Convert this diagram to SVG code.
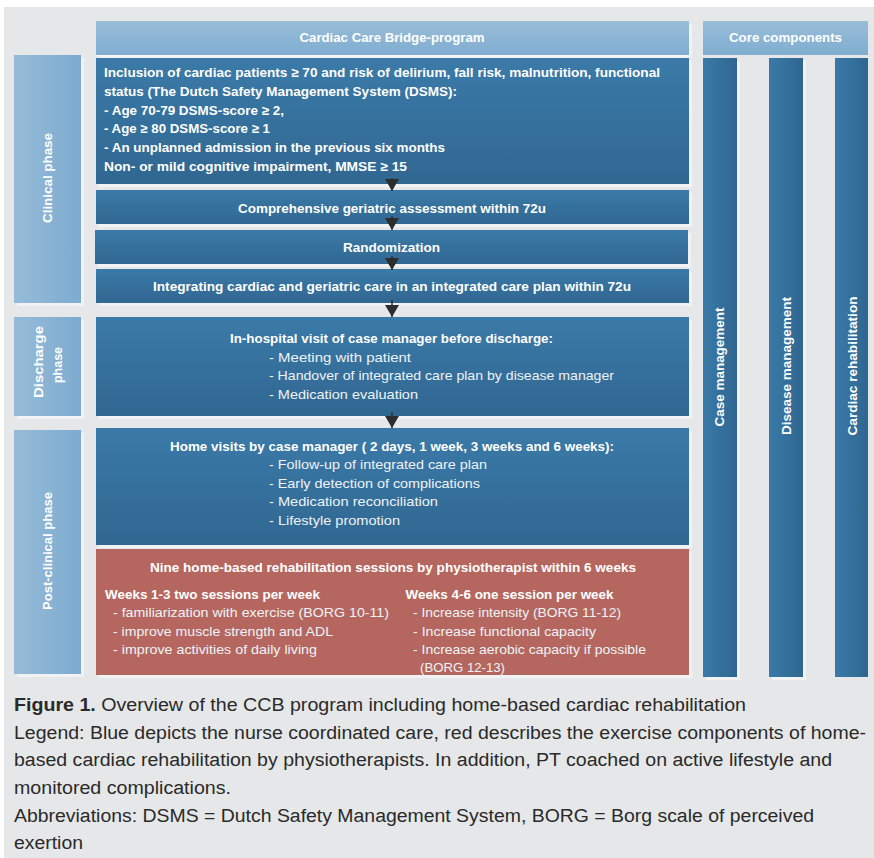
<svg xmlns="http://www.w3.org/2000/svg" width="874" height="858" viewBox="0 0 874 858">
<style>
.b{font-family:"Liberation Sans",Arial,sans-serif;font-weight:bold;font-size:13px;fill:#ffffff}
.n{font-family:"Liberation Sans",Arial,sans-serif;font-size:13px;fill:#eef3f8}
.c{font-family:"Liberation Sans",Arial,sans-serif;font-size:18px;fill:#2a2a2a}
.m{text-anchor:middle}
.sh{fill:#f1f2f3}
</style>
<defs>
<linearGradient id="gBlue" x1="0" y1="0" x2="0" y2="1"><stop offset="0" stop-color="#3b7aa8"/><stop offset="1" stop-color="#306791"/></linearGradient>
<linearGradient id="gHead" x1="0" y1="0" x2="0" y2="1"><stop offset="0" stop-color="#98bdd9"/><stop offset="1" stop-color="#80add0"/></linearGradient>
<linearGradient id="gPhase" x1="0" y1="0" x2="1" y2="0"><stop offset="0" stop-color="#96bbd8"/><stop offset="1" stop-color="#7eabcf"/></linearGradient>
<linearGradient id="gCol" x1="0" y1="0" x2="1" y2="0"><stop offset="0" stop-color="#3a7aa8"/><stop offset="1" stop-color="#2f6690"/></linearGradient>
<marker id="arr" markerUnits="userSpaceOnUse" markerWidth="13" markerHeight="14" viewBox="0 0 12 14" refX="12" refY="7" orient="auto"><path d="M0,0 L12,7 L0,14 z" fill="#2d2d2d"/></marker>
</defs>
<rect x="4" y="7" width="870" height="851" fill="#e6e7e9"/>

<g id="header-program">
<rect class="sh" x="99" y="24" width="593" height="34"/>
<rect x="96" y="21" width="593" height="34" fill="url(#gHead)"/>
<line x1="96" y1="55.5" x2="689" y2="55.5" stroke="#f4f7fa" stroke-width="1"/>
<text class="b m" x="392" y="42" textLength="185" lengthAdjust="spacingAndGlyphs">Cardiac Care Bridge-program</text>
</g>
<g id="header-core">
<rect x="703" y="21" width="165" height="34" fill="url(#gHead)"/>
<text class="b m" x="785.5" y="42" textLength="113" lengthAdjust="spacingAndGlyphs">Core components</text>
</g>

<g id="phase-clinical">
<rect class="sh" x="17" y="58" width="67" height="248"/>
<rect x="14" y="55" width="67" height="248" fill="url(#gPhase)"/>
<text class="b m" transform="translate(47,178) rotate(-90)" x="0" y="4.5" textLength="90" lengthAdjust="spacingAndGlyphs">Clinical phase</text>
</g>
<g id="phase-discharge">
<rect class="sh" x="17" y="320" width="67" height="99"/>
<rect x="14" y="317" width="67" height="99" fill="url(#gPhase)"/>
<text class="b m" transform="translate(38,362) rotate(-90)" x="0" y="4.5" textLength="72" lengthAdjust="spacingAndGlyphs">Discharge</text>
<text class="b m" transform="translate(57,365) rotate(-90)" x="0" y="4.5" textLength="36" lengthAdjust="spacingAndGlyphs">phase</text>
</g>
<g id="phase-post">
<rect class="sh" x="17" y="433" width="67" height="244"/>
<rect x="14" y="430" width="67" height="244" fill="url(#gPhase)"/>
<text class="b m" transform="translate(47,551) rotate(-90)" x="0" y="4.5" textLength="118" lengthAdjust="spacingAndGlyphs">Post-clinical phase</text>
</g>

<g id="col-case">
<rect class="sh" x="706" y="61" width="34" height="619"/>
<rect x="703" y="58" width="34" height="619" fill="url(#gCol)"/>
<text class="b m" transform="translate(719,367) rotate(-90)" x="0" y="4.5" textLength="119" lengthAdjust="spacingAndGlyphs">Case management</text>
</g>
<g id="col-disease">
<rect class="sh" x="772" y="61" width="34" height="619"/>
<rect x="769" y="58" width="34" height="619" fill="url(#gCol)"/>
<text class="b m" transform="translate(786,366) rotate(-90)" x="0" y="4.5" textLength="138" lengthAdjust="spacingAndGlyphs">Disease management</text>
</g>
<g id="col-rehab">
<rect x="835" y="58" width="33" height="619" fill="url(#gCol)"/>
<text class="b m" transform="translate(852,366) rotate(-90)" x="0" y="4.5" textLength="139" lengthAdjust="spacingAndGlyphs">Cardiac rehabilitation</text>
</g>

<g id="box-inclusion">
<rect class="sh" x="99" y="61" width="593" height="126"/>
<rect x="96" y="58" width="593" height="126" fill="url(#gBlue)"/>
<text class="b" x="104" y="76.5" textLength="556" lengthAdjust="spacingAndGlyphs">Inclusion of cardiac patients ≥ 70 and risk of delirium, fall risk, malnutrition, functional</text>
<text class="b" x="104" y="95.5" textLength="353" lengthAdjust="spacingAndGlyphs">status (The Dutch Safety Management System (DSMS):</text>
<text class="b" x="104" y="114.5" textLength="180" lengthAdjust="spacingAndGlyphs">- Age 70-79 DSMS-score ≥ 2,</text>
<text class="b" x="104" y="132.5" textLength="166" lengthAdjust="spacingAndGlyphs">- Age ≥ 80 DSMS-score ≥ 1</text>
<text class="b" x="104" y="151.5" textLength="341" lengthAdjust="spacingAndGlyphs">- An unplanned admission in the previous six months</text>
<text class="b" x="104" y="170.5" textLength="303" lengthAdjust="spacingAndGlyphs">Non- or mild cognitive impairment, MMSE ≥ 15</text>
</g>
<g id="box-assessment">
<rect class="sh" x="99" y="193" width="593" height="34"/>
<rect x="96" y="190" width="593" height="34" fill="url(#gBlue)"/>
<text class="b m" x="392" y="212.5" textLength="308" lengthAdjust="spacingAndGlyphs">Comprehensive geriatric assessment within 72u</text>
</g>
<g id="box-randomization">
<rect class="sh" x="98" y="233" width="593" height="34"/>
<rect x="95" y="230" width="593" height="34" fill="url(#gBlue)"/>
<text class="b m" x="391.5" y="251.5" textLength="97" lengthAdjust="spacingAndGlyphs">Randomization</text>
</g>
<g id="box-integrating">
<rect class="sh" x="99" y="272" width="593" height="34"/>
<rect x="96" y="269" width="593" height="34" fill="url(#gBlue)"/>
<text class="b m" x="392" y="290.5" textLength="478" lengthAdjust="spacingAndGlyphs">Integrating cardiac and geriatric care in an integrated care plan within 72u</text>
</g>
<g id="box-inhospital">
<rect class="sh" x="99" y="320" width="593" height="99"/>
<rect x="96" y="317" width="593" height="99" fill="url(#gBlue)"/>
<text class="b m" x="391.5" y="342.5" textLength="323" lengthAdjust="spacingAndGlyphs">In-hospital visit of case manager before discharge:</text>
<text class="n" x="269" y="361.5" textLength="142" lengthAdjust="spacingAndGlyphs">- Meeting with patient</text>
<text class="n" x="269" y="379.5" textLength="345" lengthAdjust="spacingAndGlyphs">- Handover of integrated care plan by disease manager</text>
<text class="n" x="269" y="398.5" textLength="149" lengthAdjust="spacingAndGlyphs">- Medication evaluation</text>
</g>
<g id="box-homevisits">
<rect class="sh" x="99" y="431" width="593" height="117"/>
<rect x="96" y="428" width="593" height="117" fill="url(#gBlue)"/>
<text class="b m" x="392" y="450.5" textLength="444" lengthAdjust="spacingAndGlyphs">Home visits by case manager ( 2 days, 1 week, 3 weeks and 6 weeks):</text>
<text class="n" x="269" y="468.5" textLength="218" lengthAdjust="spacingAndGlyphs">- Follow-up of integrated care plan</text>
<text class="n" x="269" y="487.5" textLength="211" lengthAdjust="spacingAndGlyphs">- Early detection of complications</text>
<text class="n" x="269" y="505.5" textLength="169" lengthAdjust="spacingAndGlyphs">- Medication reconciliation</text>
<text class="n" x="269" y="524.5" textLength="131" lengthAdjust="spacingAndGlyphs">- Lifestyle promotion</text>
</g>
<g id="box-rehab">
<rect class="sh" x="99" y="552" width="593" height="126"/>
<rect x="96" y="549" width="593" height="126" fill="#b5675f"/>
<text class="b m" x="393" y="571.5" textLength="486" lengthAdjust="spacingAndGlyphs">Nine home-based rehabilitation sessions by physiotherapist within 6 weeks</text>
<text class="b" x="105" y="598.5" textLength="215" lengthAdjust="spacingAndGlyphs">Weeks 1-3 two sessions per week</text>
<text class="n" x="113" y="616.5" textLength="276" lengthAdjust="spacingAndGlyphs">- familiarization with exercise  (BORG 10-11)</text>
<text class="n" x="113" y="635.5" textLength="220" lengthAdjust="spacingAndGlyphs">- improve muscle strength and ADL</text>
<text class="n" x="113" y="653.5" textLength="204" lengthAdjust="spacingAndGlyphs">- improve activities of daily living</text>
<text class="b" x="405.5" y="598.5" textLength="208" lengthAdjust="spacingAndGlyphs">Weeks 4-6 one session per week</text>
<text class="n" x="413" y="616.5" textLength="208" lengthAdjust="spacingAndGlyphs">- Increase intensity (BORG 11-12)</text>
<text class="n" x="413" y="635.5" textLength="183" lengthAdjust="spacingAndGlyphs">- Increase functional capacity</text>
<text class="n" x="413" y="653.5" textLength="233" lengthAdjust="spacingAndGlyphs">- Increase aerobic capacity if possible</text>
<text class="n" x="420" y="671.5" textLength="85" lengthAdjust="spacingAndGlyphs">(BORG 12-13)</text>
</g>

<g id="connectors" stroke="#2d2d2d" stroke-width="1.5" fill="none">
<path d="M392,178 L392,191" marker-end="url(#arr)"/>
<path d="M392,216 L392,230" marker-end="url(#arr)"/>
<path d="M392,256 L392,270" marker-end="url(#arr)"/>
<path d="M392,300 L392,317" marker-end="url(#arr)"/>
<path d="M392,412 L392,428" marker-end="url(#arr)"/>
</g>

<g id="caption">
<text class="c" x="14" y="711" textLength="732" lengthAdjust="spacingAndGlyphs"><tspan font-weight="bold">Figure 1.</tspan> Overview of the CCB program including home-based cardiac rehabilitation</text>
<text class="c" x="14" y="739" textLength="852" lengthAdjust="spacingAndGlyphs">Legend: Blue depicts the nurse coordinated care, red describes the exercise components of home-</text>
<text class="c" x="14" y="766" textLength="818" lengthAdjust="spacingAndGlyphs">based cardiac rehabilitation by physiotherapists. In addition, PT coached on active lifestyle and</text>
<text class="c" x="14" y="794" textLength="217" lengthAdjust="spacingAndGlyphs">monitored complications.</text>
<text class="c" x="14" y="822" textLength="800" lengthAdjust="spacingAndGlyphs">Abbreviations: DSMS = Dutch Safety Management System, BORG = Borg scale of perceived</text>
<text class="c" x="14" y="849" textLength="69" lengthAdjust="spacingAndGlyphs">exertion</text>
</g>
</svg>
